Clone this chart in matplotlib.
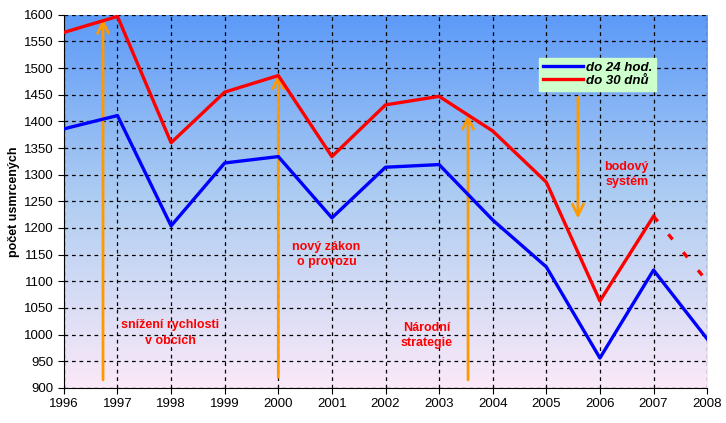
import matplotlib
matplotlib.use('Agg')
import matplotlib.pyplot as plt
import numpy as np
from matplotlib.colors import LinearSegmentedColormap

plt.rcParams['font.family'] = ['Liberation Sans', 'DejaVu Sans']

# Data
years = [1996, 1997, 1998, 1999, 2000, 2001, 2002, 2003, 2004, 2005, 2006, 2007, 2008]
do_24 = [1386, 1411, 1204, 1322, 1334, 1219, 1314, 1319, 1215, 1127, 956, 1121, 992]
years_30 = [1996, 1997, 1998, 1999, 2000, 2001, 2002, 2003, 2004, 2005, 2006, 2007]
do_30 = [1567, 1597, 1360, 1455, 1486, 1334, 1431, 1447, 1382, 1286, 1063, 1222]
# estimate for 2008 (dashed)
years_30_est = [2007, 2008]
do_30_est = [1222, 1100]

# annotations: (x, y_from, y_to)
arrows = [(1996.73, 915, 1592), (2000.0, 920, 1488), (2003.54, 915, 1412), (2005.59, 1445, 1218)]
notes = [(1997.98, 1003, 'snížení rychlosti\nv obcich'),
         (2000.9, 1150, 'nový zákon\no provozu'),
         (2002.77, 999, 'Národní\nstrategie'),
         (2006.5, 1300, 'bodový\nsystém')]

fig = plt.figure(figsize=(7.26, 4.23), dpi=100)
ax = fig.add_axes([0.088, 0.083, 0.886, 0.882])

# gradient background
cmap = LinearSegmentedColormap.from_list('bg', ['#FBE9F8', '#B0CEF2', '#5C9AF8'])
grad = np.linspace(0, 1, 256).reshape(-1, 1)
ax.imshow(grad, aspect='auto', cmap=cmap, origin='lower',
          extent=[1996, 2008, 900, 1600], zorder=0)

ax.set_xlim(1996, 2008)
ax.set_ylim(900, 1600)
ax.set_xticks(years)
ax.set_yticks(np.arange(900, 1601, 50))
ax.set_axisbelow(True)
ax.grid(True, color='black', linestyle=(0, (3, 3)), linewidth=0.9)

for x, y0, y1 in arrows:
    ax.annotate('', xy=(x, y1), xytext=(x, y0),
                arrowprops=dict(arrowstyle='->', color='#FF9900', lw=2,
                                mutation_scale=20, shrinkA=0, shrinkB=0), zorder=2)

ax.plot(years, do_24, color='#0000FF', lw=2.4, label='do 24 hod.', zorder=3)
ax.plot(years_30, do_30, color='#FF0000', lw=2.4, label='do 30 dnů', zorder=3)
ax.plot(years_30_est, do_30_est, color='#FF0000', lw=2.4, linestyle=(0, (2, 5)), zorder=3)

for x, y, t in notes:
    ax.text(x, y, t, color='#FF0000', fontsize=9, fontweight='bold', ha='center',
            va='center', linespacing=1.35, zorder=4)

leg = ax.legend(loc='upper left', bbox_to_anchor=(0.739, 0.885), frameon=True,
                fancybox=False, facecolor='#CCFFCC', edgecolor='#CCFFCC', framealpha=1,
                handlelength=3.0, handletextpad=0.25, borderpad=0.3, labelspacing=0.05,
                borderaxespad=0,
                prop=dict(size=9.5, weight='bold', style='italic'))

for s in ['top', 'right']:
    ax.spines[s].set_visible(False)
ax.tick_params(labelsize=9.5, length=4, direction='out')
ax.set_ylabel('počet usmrcených', fontsize=9, fontweight='bold', labelpad=3)

fig.savefig('out.png', dpi=100)
